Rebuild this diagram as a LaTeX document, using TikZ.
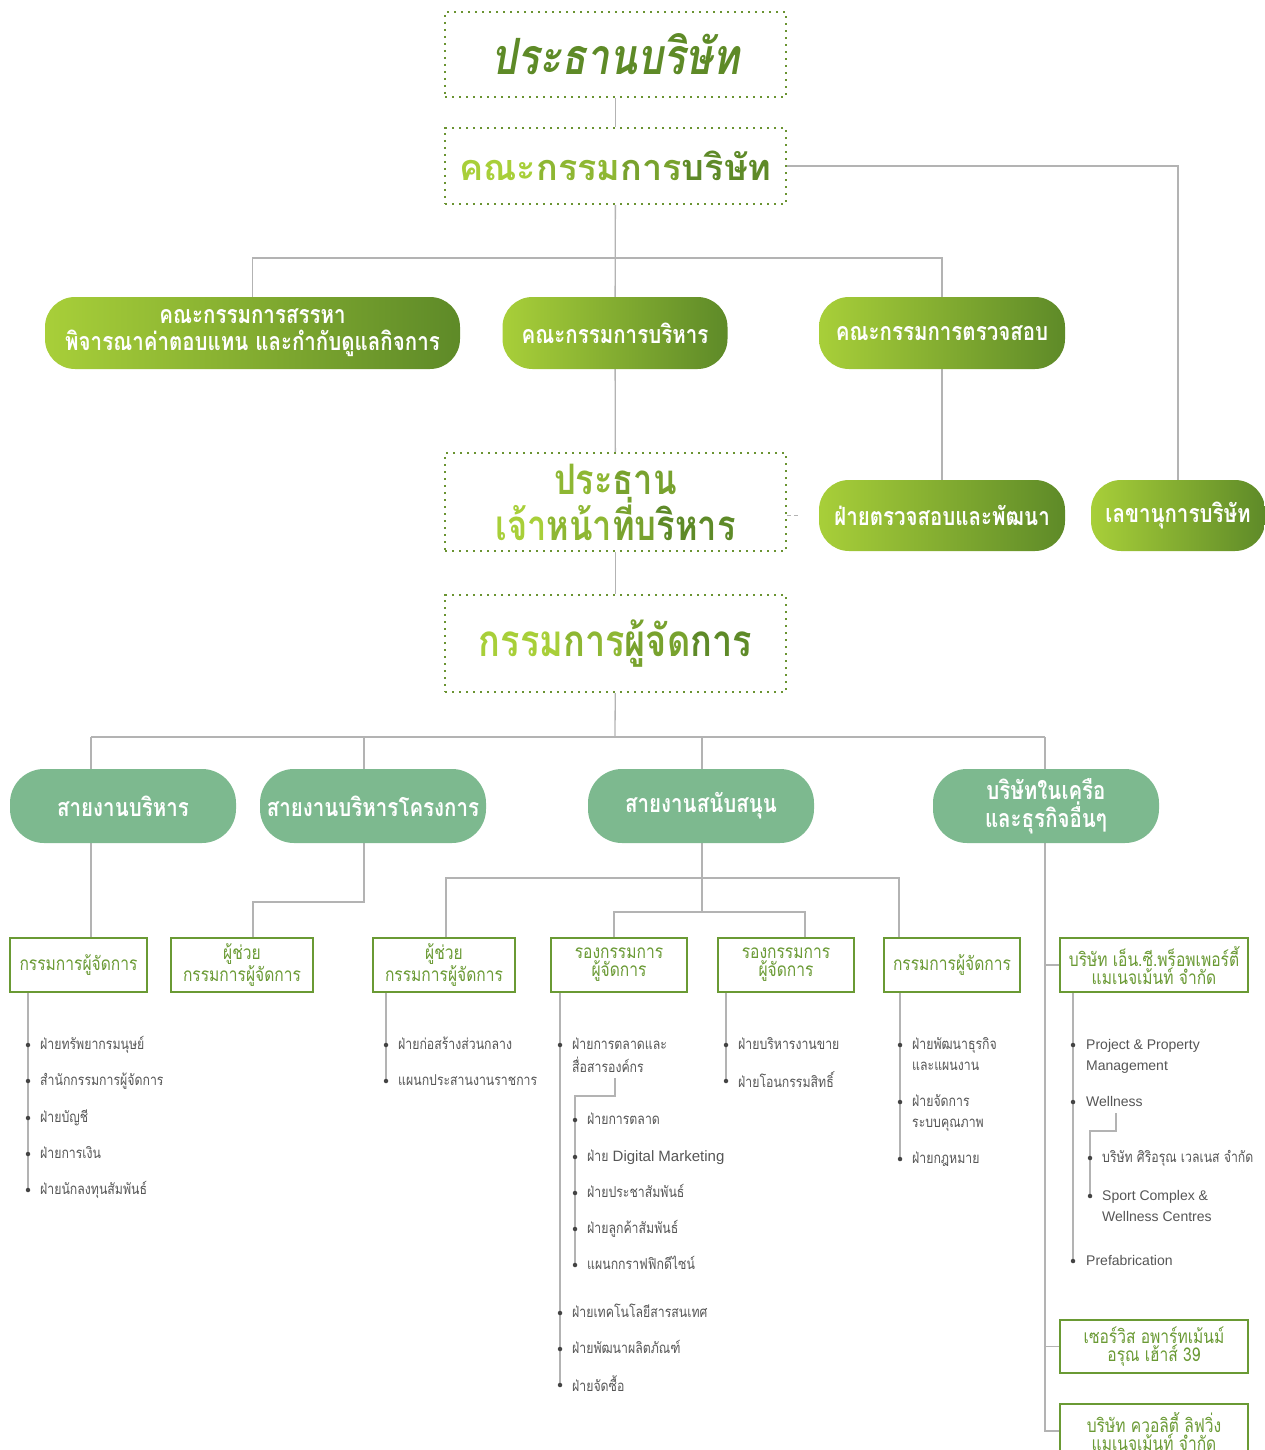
\documentclass[tikz,border=0pt]{standalone}
\usepackage{fontspec}
\usetikzlibrary{calc,backgrounds}
\newfontfamily\thai[Script=Thai,FakeStretch=0.82]{Loma}
\newfontfamily\thaiw[Script=Thai]{Loma}
\newfontfamily\latin{Liberation Sans}
\definecolor{linegray}{HTML}{B3B3B3}
\definecolor{dotgreen}{HTML}{6A9331}
\definecolor{titlegreen}{HTML}{5E8A27}
\definecolor{gradlight}{HTML}{A8CF39}
\definecolor{graddark}{HTML}{5E8A28}
\colorlet{g1}{gradlight}
\colorlet{g2}{gradlight!65!graddark}
\colorlet{g3}{gradlight!35!graddark}
\colorlet{g4}{graddark}
\definecolor{seagreen}{HTML}{7DB98F}
\definecolor{boxgreen}{HTML}{6A9A34}
\definecolor{itemgray}{HTML}{555555}
\tikzset{
  conn/.style={draw=linegray, line width=1.3pt},
  dotbox/.style={draw=dotgreen, line width=2.4pt, dash pattern=on 2.4pt off 4.6pt, minimum width=341pt, inner sep=0pt, align=center},
  greenpill/.style={rounded corners=30pt, left color=gradlight, right color=graddark, text=white, align=center, minimum height=72pt, inner sep=0pt, font=\thai\bfseries\fontsize{25}{27}\selectfont},
  seapill/.style={rounded corners=34pt, fill=seagreen, text=white, align=center, minimum width=226pt, minimum height=74pt, inner sep=0pt, font=\thai\bfseries\fontsize{25}{28}\selectfont},
  unitbox/.style={draw=boxgreen, line width=1.8pt, fill=white, text=boxgreen, align=center, minimum height=54pt, inner sep=0pt, font=\thai\fontsize{19}{18}\selectfont},
  item/.style={anchor=north west, inner sep=0pt, align=left, text=itemgray, font=\thai\fontsize{15}{21}\selectfont},
  dot/.style={circle, fill=itemgray!80!black, inner sep=0pt, minimum size=4.5pt},
}
\begin{document}
\begin{tikzpicture}[x=1pt,y=-1pt]
\useasboundingbox (0,0) rectangle (1265,1450);
% board and committees
\node[dotbox, minimum height=85pt, text=titlegreen, font=\thai\bfseries\itshape\fontsize{50}{54}\selectfont] (chair) at (615.5,54.5) {ประธานบริษัท};
\node[dotbox, minimum height=76pt, font=\thaiw\bfseries\fontsize{36}{40}\selectfont] (board) at (615.5,166) {\textcolor{g1}{คณะ}\textcolor{g2}{กรรม}\textcolor{g3}{การ}\textcolor{g4}{บริษัท}};
\node[greenpill, minimum width=415pt] (nomi) at (252.5,333) {คณะกรรมการสรรหา\\พิจารณาค่าตอบแทน และกำกับดูแลกิจการ};
\node[greenpill, minimum width=225pt] (exco) at (615,333) {คณะกรรมการบริหาร};
\node[greenpill, minimum width=246pt] (audit) at (942,333) {คณะกรรมการตรวจสอบ};
\node[greenpill, minimum width=246pt, minimum height=71pt] (iad) at (942,515.5) {ฝ่ายตรวจสอบและพัฒนา};
\node[greenpill, minimum width=174pt, minimum height=71pt] (sec) at (1178,515.5) {เลขานุการบริษัท};
\node[dotbox, minimum height=98pt, font=\thai\bfseries\fontsize{42}{46}\selectfont] (ceo) at (615.5,502) {\textcolor{g2}{ประ}\textcolor{g3}{ธาน}\\\textcolor{g1}{เจ้า}\textcolor{g2}{หน้า}\textcolor{g3}{ที่บ}\textcolor{g4}{ริหาร}};
\node[dotbox, minimum height=97pt, font=\thai\bfseries\fontsize{44}{48}\selectfont] (md) at (615.5,643.5) {\textcolor{g1}{กรรม}\textcolor{g2}{การ}\textcolor{g3}{ผู้จัด}\textcolor{g4}{การ}};
\coordinate (j1) at (615,258);
\coordinate (ceotick) at (801,515.5);
\begin{scope}[on background layer]
  \draw[conn] (chair) -- (board);
  \draw[conn] (board.east) -| (sec.north);
  \draw[conn] (board) -- (exco);
  \draw[conn] (nomi.north) |- (j1) -| (audit.north);
  \draw[conn] (exco) -- (ceo);
  \draw[conn] (audit) -- (iad);
  \draw[conn, dash pattern=on 4pt off 3pt] (ceo.east |- iad) -- (ceotick);
  \draw[conn] (ceo) -- (md);
\end{scope}
% business lines
\node[seapill] (adm) at (123,806) {สายงานบริหาร};
\node[seapill] (proj) at (373,806) {สายงานบริหารโครงการ};
\node[seapill] (supp) at (701,806) {สายงานสนับสนุน};
\node[seapill] (subs) at (1046,806) {บริษัทในเครือ\\และธุรกิจอื่นๆ};
% units
\node[unitbox, minimum width=137pt] (b1) at (78.5,965) {กรรมการผู้จัดการ};
\node[unitbox, minimum width=142pt] (b2) at (242,965) {ผู้ช่วย\\กรรมการผู้จัดการ};
\node[unitbox, minimum width=142pt] (b3) at (444,965) {ผู้ช่วย\\กรรมการผู้จัดการ};
\node[unitbox, minimum width=136pt] (b4) at (619,965) {รองกรรมการ\\ผู้จัดการ};
\node[unitbox, minimum width=136pt] (b5) at (786,965) {รองกรรมการ\\ผู้จัดการ};
\node[unitbox, minimum width=136pt] (b6) at (952,965) {กรรมการผู้จัดการ};
\node[unitbox, minimum width=188pt] (b7) at (1154,965) {บริษัท เอ็น.ซี.พร็อพเพอร์ตี้\\แมเนจเม้นท์ จำกัด};
\node[unitbox, minimum width=188pt, minimum height=53pt] (b8) at (1154,1346.5) {เซอร์วิส อพาร์ทเม้นม์\\อรุณ เฮ้าส์ 39};
\node[unitbox, minimum width=188pt] (b9) at (1154,1431) {บริษัท ควอลิตี้ ลิฟวิ่ง\\แมเนจเม้นท์ จำกัด};
\coordinate (j2) at (615,737);
\coordinate (ja) at (91,737);
\coordinate (jb) at (364,737);
\coordinate (jc) at (702,737);
\coordinate (jd) at (1045,737);
\coordinate (kb) at (253,902);
\coordinate (kc1) at (446,878);
\coordinate (kc6) at (899,878);
\coordinate (kc2) at (702,912);
\coordinate (kc4) at (614,912);
\coordinate (kc5) at (805,912);
\coordinate (kd) at (1045,1431);
\begin{scope}[on background layer]
  \draw[conn] (md) -- (j2);
  \draw[conn] (ja) -- (jd);
  \draw[conn] (ja) -- (ja |- b1.north);
  \draw[conn] (jb) |- (kb) -- (kb |- b2.north);
  \draw[conn] (jc) -- (kc2);
  \draw[conn] (kc1 |- b3.north) -- (kc1) -- (kc6) -- (kc6 |- b6.north);
  \draw[conn] (kc4 |- b4.north) -- (kc4) -- (kc5) -- (kc5 |- b5.north);
  \draw[conn] (jd) -- (kd) -- (kd -| b9.west);
  \draw[conn] (jd |- b7) -- (b7.west);
  \draw[conn] (jd |- b8) -- (b8.west);
\end{scope}
% department lists
\foreach \y/\t [count=\i] in {1045/ฝ่ายทรัพยากรมนุษย์, 1081/สำนักกรรมการผู้จัดการ, 1118/ฝ่ายบัญชี, 1154/ฝ่ายการเงิน, 1190/ฝ่ายนักลงทุนสัมพันธ์}{
  \node[dot] (l1-\i) at (28,\y) {};
  \node[item] at (40,\y-10) {\strut\t};
}
\foreach \y/\t [count=\i] in {1045/ฝ่ายก่อสร้างส่วนกลาง, 1081/แผนกประสานงานราชการ}{
  \node[dot] (l2-\i) at (386,\y) {};
  \node[item] at (398,\y-10) {\strut\t};
}
\foreach \y/\t [count=\i] in {1045/{ฝ่ายการตลาดและ\\สื่อสารองค์กร}, 1313/ฝ่ายเทคโนโลยีสารสนเทศ, 1349/ฝ่ายพัฒนาผลิตภัณฑ์, 1385/ฝ่ายจัดซื้อ}{
  \node[dot] (l3-\i) at (560,\y) {};
  \node[item] at (572,\y-10) {\strut\t};
}
\foreach \y/\t [count=\i] in {1120/ฝ่ายการตลาด, 1157/{ฝ่าย {\latin Digital Marketing}}, 1193/ฝ่ายประชาสัมพันธ์, 1229/ฝ่ายลูกค้าสัมพันธ์, 1265/แผนกกราฟฟิกดีไซน์}{
  \node[dot] (s3-\i) at (575,\y) {};
  \node[item] at (587,\y-10) {\strut\t};
}
\foreach \y/\t [count=\i] in {1045/ฝ่ายบริหารงานขาย, 1081/ฝ่ายโอนกรรมสิทธิ์}{
  \node[dot] (l4-\i) at (726,\y) {};
  \node[item] at (738,\y-10) {\strut\t};
}
\foreach \y/\t [count=\i] in {1045/{ฝ่ายพัฒนาธุรกิจ\\และแผนงาน}, 1102/{ฝ่ายจัดการ\\ระบบคุณภาพ}, 1159/ฝ่ายกฎหมาย}{
  \node[dot] (l5-\i) at (900,\y) {};
  \node[item] at (912,\y-10) {\strut\t};
}
\foreach \y/\t [count=\i] in {1045/{Project \& Property\\Management}, 1102/Wellness, 1261/Prefabrication}{
  \node[dot] (l6-\i) at (1073,\y) {};
  \node[item, font=\latin\fontsize{14}{21}\selectfont] at (1086,\y-10) {\strut\t};
}
\foreach \y/\t/\f/\s [count=\i] in {1158/{บริษัท ศิริอรุณ เวลเนส จำกัด}/\thai/15, 1196/{Sport Complex \&\\Wellness Centres}/\latin/14}{
  \node[dot] (s6-\i) at (1090,\y) {};
  \node[item, font=\f\fontsize{\s}{21}\selectfont] at (1102,\y-10) {\strut\t};
}
\coordinate (mkt) at (615,1078);
\coordinate (well) at (1116,1113);
\begin{scope}[on background layer]
  \draw[conn] (l1-1 |- b1.south) -- (l1-5);
  \draw[conn] (l2-1 |- b3.south) -- (l2-2);
  \draw[conn] (l3-1 |- b4.south) -- (l3-4);
  \draw[conn] (l4-1 |- b5.south) -- (l4-2);
  \draw[conn] (l5-1 |- b6.south) -- (l5-3);
  \draw[conn] (l6-1 |- b7.south) -- (l6-3);
  \draw[conn] (mkt) |- ($(s3-1)+(0,-24)$) -- (s3-5);
  \draw[conn] (well) |- ($(s6-1)+(0,-27)$) -- (s6-2);
\end{scope}
\end{tikzpicture}
\end{document}
